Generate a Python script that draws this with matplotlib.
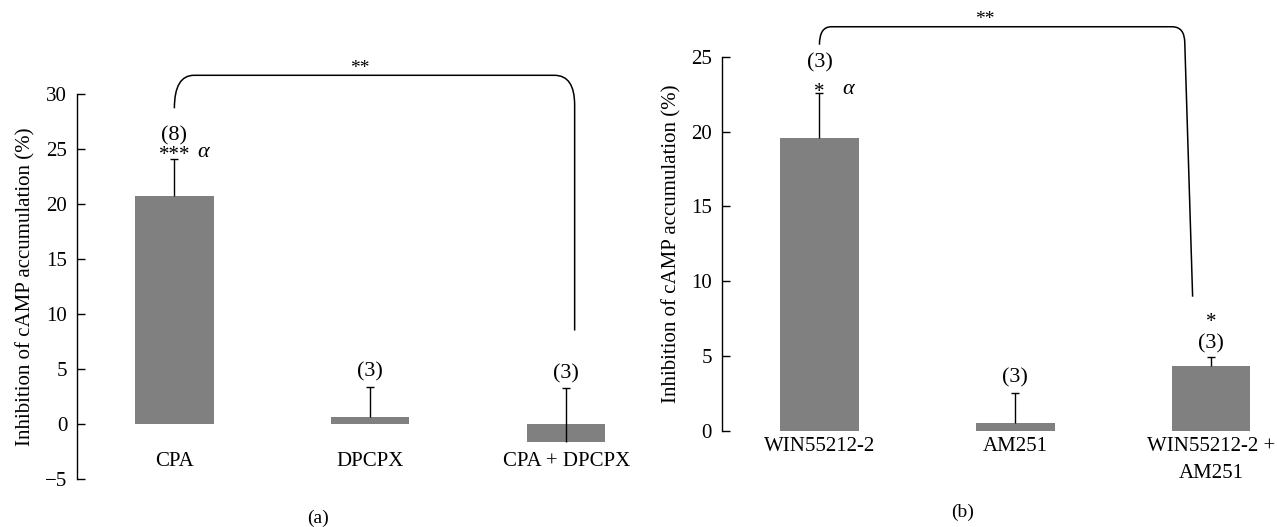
import numpy as np
import matplotlib
matplotlib.use('Agg')
import matplotlib.pyplot as plt
from matplotlib.path import Path
from matplotlib.patches import PathPatch

plt.rcParams['font.family'] = ['Liberation Serif', 'DejaVu Serif']
plt.rcParams['font.size'] = 15

# panel (a): adenosine A1
labels_a = ["CPA", "DPCPX", "CPA + DPCPX"]
values_a = [20.7, 0.65, -1.6]
errors_a = [3.4, 2.7, 4.85]
n_a = ["(8)", "(3)", "(3)"]

# panel (b): cannabinoid CB1
labels_b = ["WIN55212-2", "AM251", "WIN55212-2 +\nAM251"]
values_b = [19.6, 0.55, 4.34]
errors_b = [3.0, 1.97, 0.58]
n_b = ["(3)", "(3)", "(3)"]

BAR = "#808080"
fig = plt.figure(figsize=(12.77, 5.27), dpi=100)

ax_a = fig.add_axes([77 / 1277, 1 - 479 / 527, (625 - 77) / 1277, (479 - 94) / 527])
ax_b = fig.add_axes([721.7 / 1277, 1 - 431 / 527, (1270 - 721.7) / 1277, (431 - 56.7) / 527])


def style_axis(ax, ylim, yticks, xlim):
    ax.set_ylim(*ylim)
    ax.set_xlim(*xlim)
    ax.set_yticks(yticks)
    for s in ["top", "right", "bottom"]:
        ax.spines[s].set_visible(False)
    ax.spines["left"].set_linewidth(1.0)
    ax.tick_params(axis="y", direction="in", length=6, width=1.0, labelsize=15, pad=7)
    ax.set_xticks([])
    ax.patch.set_alpha(0)
    ax.set_ylabel("Inhibition of cAMP accumulation (%)", fontsize=15, labelpad=7)


def draw_bars(ax, values, errors):
    x = np.arange(len(values))
    ax.bar(x, values, width=0.4, color=BAR, zorder=1)
    lower = np.zeros(len(values))
    _, caps, _ = ax.errorbar(x, values, yerr=[lower, errors], fmt="none", ecolor="black",
                             elinewidth=1.0, capsize=3, capthick=1.0, zorder=2)
    caps[0].set_visible(False)  # only the upper cap
    return x


def bracket(ax, pts):
    codes = [Path.MOVETO, Path.CURVE3, Path.CURVE3, Path.LINETO,
             Path.CURVE3, Path.CURVE3, Path.LINETO]
    patch = PathPatch(Path(pts, codes), facecolor="none", edgecolor="black",
                      lw=1.1, clip_on=False, zorder=3)
    ax.add_patch(patch)


# ---- panel (a)
style_axis(ax_a, (-5, 30), [-5, 0, 5, 10, 15, 20, 25, 30], (-0.497, 2.3))
xa = draw_bars(ax_a, values_a, errors_a)
for i, lab in enumerate(labels_a):
    ax_a.text(xa[i], -3.8, lab, ha="center", va="baseline", fontsize=15)
ax_a.text(xa[0], 26.2, n_a[0], ha="center", va="center", fontsize=16)
ax_a.text(xa[0], 24.45, "***", ha="center", va="center", fontsize=15)
ax_a.text(xa[0] + 0.145, 24.7, "α", ha="center", va="center", fontsize=16, style="italic")
ax_a.text(xa[1], 4.7, n_a[1], ha="center", va="center", fontsize=16)
ax_a.text(xa[2], 4.6, n_a[2], ha="center", va="center", fontsize=16)
bracket(ax_a, [(0, 28.7), (0, 31.7), (0.1, 31.7), (1.94, 31.7),
               (2.043, 31.7), (2.043, 29.0), (2.043, 8.5)])
ax_a.text(0.946, 32.3, "**", ha="center", va="center", fontsize=14)

# ---- panel (b)
style_axis(ax_b, (0, 25), [0, 5, 10, 15, 20, 25], (-0.499, 2.3))
xb = draw_bars(ax_b, values_b, errors_b)
for i, lab in enumerate(labels_b):
    ax_b.text(xb[i], -0.4, lab, ha="center", va="top", fontsize=15, linespacing=1.55)
ax_b.text(xb[0], 24.6, n_b[0], ha="center", va="center", fontsize=16)
ax_b.text(xb[0], 22.6, "*", ha="center", va="center", fontsize=15)
ax_b.text(xb[0] + 0.145, 22.8, "α", ha="center", va="center", fontsize=16, style="italic")
ax_b.text(xb[1], 3.52, n_b[1], ha="center", va="center", fontsize=16)
ax_b.text(xb[2], 5.85, n_b[2], ha="center", va="center", fontsize=16)
ax_b.text(xb[2], 7.25, "*", ha="center", va="center", fontsize=15)
bracket(ax_b, [(0, 25.8), (0, 27.0), (0.06, 27.0), (1.8, 27.0),
               (1.865, 27.0), (1.865, 25.9), (1.905, 8.97)])
ax_b.text(0.845, 27.5, "**", ha="center", va="center", fontsize=14)

fig.text(318 / 1277, 1 - 518 / 527, "(a)", ha="center", va="center", fontsize=14)
fig.text(963 / 1277, 1 - 512 / 527, "(b)", ha="center", va="center", fontsize=14)

fig.savefig("out.png", dpi=100)
